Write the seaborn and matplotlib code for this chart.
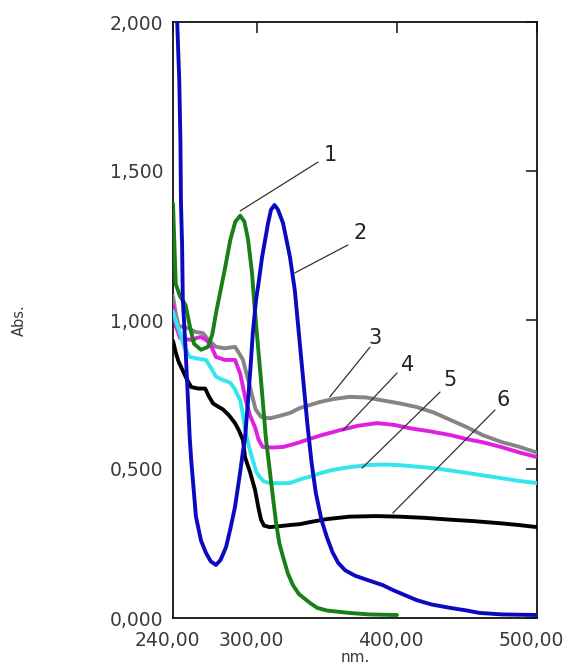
import numpy as np
import pandas as pd
import matplotlib
matplotlib.use("Agg")
import matplotlib.pyplot as plt
import matplotlib.transforms as mtransforms
import seaborn as sns

# ---------------- data ----------------
nm_1 = [240, 241, 242, 245, 249, 252, 255, 260, 265, 268, 271, 274, 277, 281, 284.5, 288,
        291, 293.6, 296.4, 298, 300, 303, 306.4, 309, 311, 313.6, 316, 318.6, 322, 325.7,
        330, 338, 343, 350, 366, 380, 398.6, 400]
abs_1 = [1.39, 1.25, 1.12, 1.08, 1.05, 0.98, 0.92, 0.90, 0.91, 0.95, 1.03, 1.10, 1.17, 1.27, 1.33, 1.35,
         1.33, 1.27, 1.16, 1.06, 0.95, 0.79, 0.60, 0.50, 0.42, 0.32, 0.25, 0.205, 0.15, 0.11,
         0.08, 0.05, 0.034, 0.025, 0.017, 0.012, 0.01, 0.01]

nm_2 = [242.5, 243, 244.5, 245.3, 245.7, 246.5, 247, 249, 250.7, 252, 253, 256.4, 260, 263.6, 267,
        270.7, 274, 277.9, 281, 284.3, 287.9, 290, 291.4, 293.6, 295.5, 297, 299.3, 301, 303.6,
        307.9, 310, 312.5, 315, 318.6, 321, 323.6, 327, 330, 333, 336, 339, 342, 346, 350, 354,
        358, 363, 370, 378.6, 390, 397, 405, 414, 425, 438, 450, 459, 475, 500]
abs_2 = [2.2, 2.0, 1.80, 1.60, 1.39, 1.25, 1.07, 0.90, 0.73, 0.60, 0.53, 0.34, 0.26, 0.218, 0.19,
         0.178, 0.195, 0.238, 0.30, 0.373, 0.487, 0.56, 0.60, 0.73, 0.85, 0.956, 1.067, 1.12, 1.21,
         1.325, 1.37, 1.386, 1.37, 1.325, 1.27, 1.21, 1.10, 0.95, 0.80, 0.65, 0.52, 0.42, 0.33, 0.27, 0.22,
         0.185, 0.16, 0.142, 0.128, 0.11, 0.094, 0.078, 0.06, 0.045, 0.034, 0.025, 0.017, 0.012, 0.010]

nm_3 = [240, 242, 244, 250.7, 256, 261.4, 266, 270.7, 277, 284.3, 287, 290, 292.5, 295, 299, 302.9,
        309, 316, 323.6, 330.7, 338, 345, 355, 366, 378, 390, 402, 414, 426, 438, 450, 461, 475,
        487, 500]
abs_3 = [1.08, 1.02, 0.98, 0.973, 0.96, 0.956, 0.93, 0.91, 0.905, 0.91, 0.89, 0.866, 0.82, 0.775, 0.70, 0.675,
         0.67, 0.678, 0.688, 0.705, 0.715, 0.725, 0.735, 0.742, 0.74, 0.73, 0.72, 0.708, 0.69, 0.665, 0.64, 0.614, 0.59,
         0.575, 0.555]

nm_4 = [240, 242, 245, 250, 254.3, 257, 260, 263, 266.4, 270.7, 277, 284.3, 288, 292, 295, 298.6, 301,
        304, 311, 318.6, 325, 330.7, 335, 345, 359, 372, 385.7, 398, 409, 424, 438, 450, 461, 475,
        487, 500]
abs_4 = [1.05, 0.98, 0.94, 0.935, 0.933, 0.94, 0.943, 0.935, 0.922, 0.876, 0.866, 0.866, 0.82, 0.73, 0.68, 0.64, 0.60,
         0.574, 0.572, 0.574, 0.582, 0.59, 0.597, 0.612, 0.63, 0.645, 0.654, 0.648, 0.637, 0.626, 0.614, 0.60, 0.59, 0.573,
         0.556, 0.54]

nm_5 = [240, 242.5, 245, 248, 252, 258, 263.6, 267, 270.7, 275, 280.7, 284, 288, 290, 292, 294.5, 297,
        299.5, 302, 305, 309, 316, 323.6, 330.7, 338, 346, 354, 366, 378.6, 390, 402, 414, 425.7, 438,
        450, 462, 473.6, 487, 500]
abs_5 = [1.03, 0.99, 0.956, 0.91, 0.876, 0.87, 0.866, 0.84, 0.81, 0.80, 0.79, 0.77, 0.73, 0.68, 0.62, 0.57, 0.53,
         0.49, 0.473, 0.458, 0.453, 0.452, 0.453, 0.465, 0.475, 0.487, 0.497, 0.506, 0.513, 0.515, 0.513, 0.508, 0.503, 0.495,
         0.487, 0.478, 0.47, 0.46, 0.453]

nm_6 = [240, 242, 244, 247, 250, 253, 258, 263, 265.5, 268.6, 272, 275.7, 280, 284.3, 287, 290, 291.4,
        295, 298.6, 301, 302.9, 305, 309, 316, 323.6, 330.7, 338, 350, 366, 385, 402, 420, 438, 455,
        473.6, 487, 500]
abs_6 = [0.93, 0.89, 0.86, 0.83, 0.80, 0.775, 0.77, 0.77, 0.745, 0.72, 0.71, 0.70, 0.68, 0.654, 0.63, 0.597, 0.54,
         0.49, 0.43, 0.37, 0.33, 0.31, 0.305, 0.308, 0.312, 0.315, 0.322, 0.332, 0.34, 0.342, 0.34, 0.336, 0.33, 0.325,
         0.318, 0.312, 0.305]

series_names = ["1", "2", "3", "4", "5", "6"]
series_nm = [nm_1, nm_2, nm_3, nm_4, nm_5, nm_6]
series_abs = [abs_1, abs_2, abs_3, abs_4, abs_5, abs_6]
series_colors = ["#178017", "#0a0ac0", "#858585", "#e020e0", "#33e6ee", "#000000"]
draw_order = ["3", "4", "5", "6", "1", "2"]

x_ticks = [240, 300, 400, 500]
x_tick_labels = ["240,00", "300,00", "400,00", "500,00"]
y_ticks = [0.0, 0.5, 1.0, 1.5, 2.0]
y_tick_labels = ["0,000", "0,500", "1,000", "1,500", "2,000"]

# annotation leader lines: (start point on curve) -> (end near label), and label centre
ann_labels = ["1", "2", "3", "4", "5", "6"]
ann_start = [(288.0, 1.366), (327.0, 1.158), (352.0, 0.742), (361.4, 0.630), (375.0, 0.503), (397.0, 0.352)]
ann_end = [(343.6, 1.530), (365.0, 1.252), (380.7, 0.909), (400.0, 0.822), (430.7, 0.758), (470.0, 0.698)]
ann_text = [(352.1, 1.554), (373.6, 1.292), (384.3, 0.940), (407.9, 0.849), (437.9, 0.799), (475.7, 0.732)]

# ---------------- build dataframe ----------------
frames = []
for name, xs, ys in zip(series_names, series_nm, series_abs):
    frames.append(pd.DataFrame({"nm": xs, "Abs": ys, "curve": name}))
df = pd.concat(frames, ignore_index=True)
palette = dict(zip(series_names, series_colors))

# ---------------- plot ----------------
sns.set_style("white")
plt.rcParams["font.family"] = ["DejaVu Sans"]

fig = plt.figure(figsize=(5.68, 6.68), dpi=100)
ax = fig.add_axes([173 / 568, 1 - 618 / 668, (537 - 173) / 568, (618 - 22) / 668])

for name in draw_order:
    sub = df[df["curve"] == name]
    sns.lineplot(data=sub, x="nm", y="Abs", color=palette[name], linewidth=2.8,
                 estimator=None, sort=False, ax=ax, legend=False, zorder=3)

for lab, s, e, t in zip(ann_labels, ann_start, ann_end, ann_text):
    ax.plot([s[0], e[0]], [s[1], e[1]], color="#333333", linewidth=0.9, zorder=4)
    ax.text(t[0], t[1], lab, fontsize=15, color="#222222", ha="center", va="center", zorder=5)

ax.set_xlim(240, 500)
ax.set_ylim(0, 2.0)
ax.set_xticks(x_ticks)
ax.set_xticklabels(x_tick_labels)
ax.set_yticks(y_ticks)
ax.set_yticklabels(y_tick_labels)
ax.tick_params(axis="both", direction="in", length=8, width=1.2, color="#222222",
               labelsize=13.5, labelcolor="#3a3a3a", top=True, right=True)
ax.tick_params(axis="x", pad=9)
ax.tick_params(axis="y", pad=7)
shift = mtransforms.ScaledTranslation(-6 / 100, 0, fig.dpi_scale_trans)
for lbl in ax.get_xticklabels():
    lbl.set_transform(lbl.get_transform() + shift)
for sp in ax.spines.values():
    sp.set_color("#111111")
    sp.set_linewidth(1.3)
    sp.set_visible(True)

ax.set_xlabel("nm.", fontsize=11, color="#3a3a3a", labelpad=0)
ax.set_ylabel("Abs.", fontsize=10.5, color="#3a3a3a", labelpad=60)

fig.savefig("out.png", dpi=100, facecolor="white")
